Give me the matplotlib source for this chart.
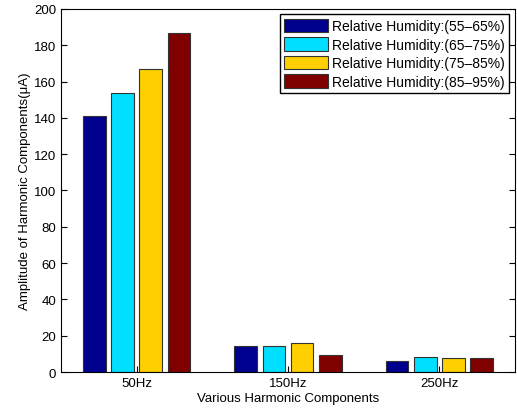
import numpy as np
import matplotlib.pyplot as plt

plt.rcParams['font.family'] = ['Liberation Sans', 'DejaVu Sans']

# harmonic amplitudes (uA) per humidity band
harmonics = ['50Hz', '150Hz', '250Hz']
rh_55_65 = [141, 14.5, 6]
rh_65_75 = [153.5, 14.5, 8]
rh_75_85 = [167, 16, 7.5]
rh_85_95 = [186.5, 9.5, 7.5]
labels = ['Relative Humidity:(55\u201365%)', 'Relative Humidity:(65\u201375%)',
          'Relative Humidity:(75\u201385%)', 'Relative Humidity:(85\u201395%)']
colors = ['#00008F', '#00DFFF', '#FFCF00', '#800000']

series = [rh_55_65, rh_65_75, rh_75_85, rh_85_95]
x = np.arange(1, len(harmonics) + 1)
width = 0.15
offsets = [-0.28, -0.093, 0.093, 0.28]

fig = plt.figure(figsize=(5.17, 4.14), dpi=100)
ax = fig.add_axes([0.118, 0.099, 0.878, 0.877])

for vals, off, c, lab in zip(series, offsets, colors, labels):
    ax.bar(x + off, vals, width, color=c, edgecolor='#333333', linewidth=0.8, label=lab)

ax.set_xlim(0.5, 3.5)
ax.set_ylim(0, 200)
ax.set_yticks(np.arange(0, 201, 20))
ax.set_xticks(x)
ax.set_xticklabels(harmonics)
ax.tick_params(direction='in', top=True, right=True, labelsize=9.5, length=4)
ax.tick_params(axis='x', top=False)
for s in ax.spines.values():
    s.set_linewidth(0.8)

ax.set_xlabel('Various Harmonic Components', fontsize=9.5, labelpad=2)
ax.set_ylabel('Amplitude of Harmonic Components(\u03bcA)', fontsize=9.5, labelpad=2)

ax.legend(loc='upper right', fontsize=10, fancybox=False, edgecolor='black',
          framealpha=1, handlelength=3.2, handleheight=1.1,
          borderaxespad=0.4, borderpad=0.3, labelspacing=0.3, handletextpad=0.3)

fig.savefig('out.png', dpi=100)
